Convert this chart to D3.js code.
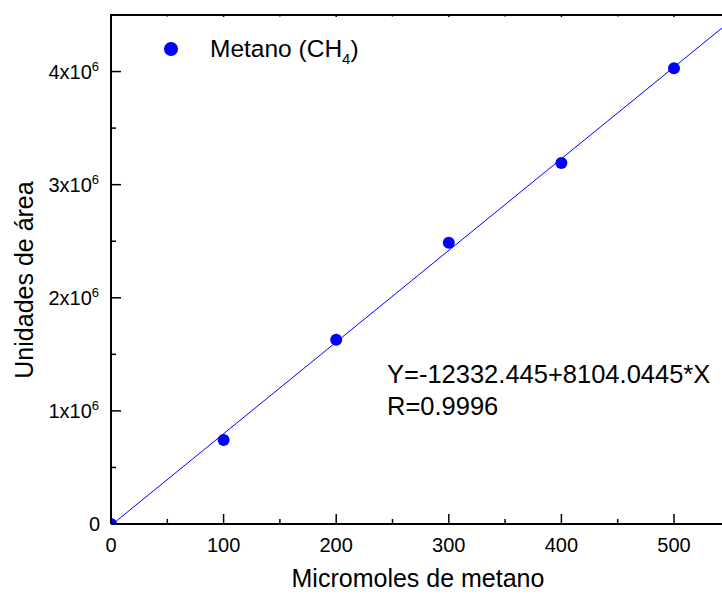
<!DOCTYPE html>
<html><head><meta charset="utf-8">
<script src="https://cdn.jsdelivr.net/npm/d3@7"></script>
<style>body{margin:0;background:#fff;} text{font-family:"Liberation Sans",Arial,sans-serif;}</style>
</head><body>
<svg id="c" width="722" height="594"></svg>
<script>
const micromoles = [0, 100, 200, 300, 400, 500];
const areas = [0, 0.743e6, 1.628e6, 2.487e6, 3.192e6, 4.03e6];
const xTicks = [0, 100, 200, 300, 400, 500];
const yTicks = [0, 1e6, 2e6, 3e6, 4e6];
const yTickLabels = ["0", "1x10", "2x10", "3x10", "4x10"];
const fitIntercept = -12332.445, fitSlope = 8104.0445;
const eqLines = ["Y=-12332.445+8104.0445*X", "R=0.9996"];
const seriesName = "Metano (CH";

const svg = d3.select("#c");
const L = 111, T = 15, B = 524;
const x = d3.scaleLinear().domain([0, 550]).range([L, L + 619.3]);
const y = d3.scaleLinear().domain([0, 4.5e6]).range([B, T]);
const blue = "#0000ff";

svg.append("clipPath").attr("id","clip").append("rect")
  .attr("x", L).attr("y", T).attr("width", 700).attr("height", B - T);

// fit line
const lineX = [0, 550];
svg.append("line").attr("clip-path","url(#clip)")
  .attr("x1", x(lineX[0])).attr("y1", y(fitIntercept + fitSlope*lineX[0]))
  .attr("x2", x(lineX[1])).attr("y2", y(fitIntercept + fitSlope*lineX[1]))
  .attr("stroke", blue).attr("stroke-width", 1);

// points
svg.append("g").attr("clip-path","url(#clip)").selectAll("circle").data(micromoles).join("circle")
  .attr("cx", (d) => x(d)).attr("cy", (d,i) => y(areas[i])).attr("r", 6).attr("fill", blue);

// frame
svg.append("path").attr("d", `M${L},${B}V${T}H730M${L},${B}H730`)
  .attr("fill","none").attr("stroke","#000").attr("stroke-width",2);

// ticks
const minorX = d3.range(50, 551, 100);
const minorY = d3.range(0.5e6, 4.5e6, 1e6);
const tk = svg.append("g").attr("stroke","#000").attr("stroke-width",1.5);
xTicks.forEach(v => {
  tk.append("line").attr("x1", x(v)).attr("x2", x(v)).attr("y1", B).attr("y2", B - 10);
  tk.append("line").attr("x1", x(v)).attr("x2", x(v)).attr("y1", T).attr("y2", T + 2);
});
minorX.forEach(v => {
  tk.append("line").attr("x1", x(v)).attr("x2", x(v)).attr("y1", B).attr("y2", B - 5);
  tk.append("line").attr("x1", x(v)).attr("x2", x(v)).attr("y1", T).attr("y2", T + 1.5);
});
yTicks.forEach(v => tk.append("line").attr("x1", L).attr("x2", L + 10).attr("y1", y(v)).attr("y2", y(v)));
minorY.forEach(v => tk.append("line").attr("x1", L).attr("x2", L + 5).attr("y1", y(v)).attr("y2", y(v)));

// x tick labels
svg.append("g").selectAll("text").data(xTicks).join("text")
  .attr("x", d => x(d)).attr("y", B + 28).attr("text-anchor","middle")
  .attr("font-size", 20).text(d => d);

// y tick labels
const yl = svg.append("g");
yTicks.forEach((v, i) => {
  const t = yl.append("text").attr("y", y(v) + 7).attr("font-size", 20);
  if (i === 0) { t.attr("x", L - 11).attr("text-anchor","end").text(yTickLabels[i]); }
  else {
    t.attr("x", L - 12).attr("text-anchor","end");
    t.append("tspan").text(yTickLabels[i]);
    t.append("tspan").attr("font-size", 13).attr("dy", -8).text("6");
  }
});

// axis titles
svg.append("text").attr("x", 418).attr("y", 587).attr("text-anchor","middle")
  .attr("font-size", 25).text("Micromoles de metano");
svg.append("text").attr("transform","translate(33,280) rotate(-90)").attr("text-anchor","middle")
  .attr("font-size", 25).text("Unidades de área");

// legend
svg.append("circle").attr("cx", 171).attr("cy", 49).attr("r", 7).attr("fill", blue);
const lg = svg.append("text").attr("x", 210).attr("y", 57).attr("font-size", 24.5);
lg.append("tspan").text(seriesName);
lg.append("tspan").attr("font-size", 15).attr("dy", 7).text("4");
lg.append("tspan").attr("dy", -7).text(")");

// equation
eqLines.forEach((s, i) => svg.append("text").attr("x", 387).attr("y", 383 + i*32)
  .attr("font-size", 25.5).text(s));
</script>
</body></html>
